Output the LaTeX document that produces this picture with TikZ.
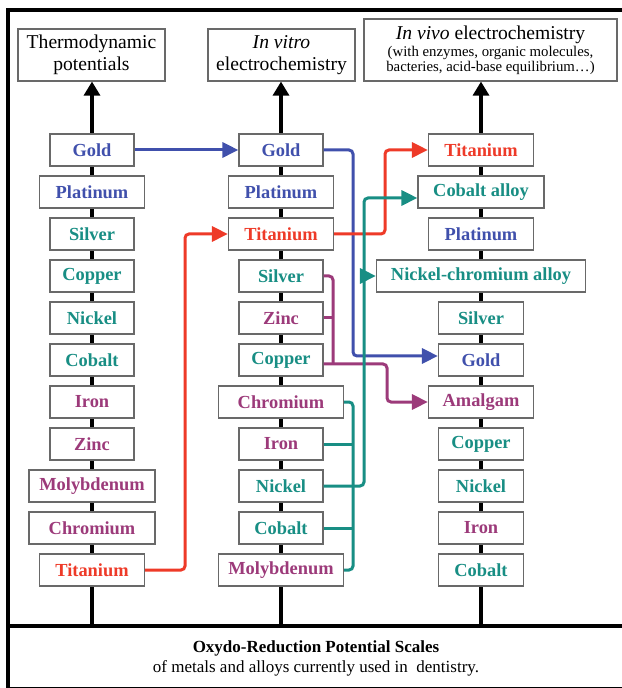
\documentclass[tikz,border=0pt]{standalone}
\usepackage{fontspec}
\setmainfont{Liberation Serif}
\usetikzlibrary{positioning}
\usetikzlibrary{arrows.meta}
\usetikzlibrary{calc}

\definecolor{mblue}{RGB}{64,80,172}
\definecolor{mteal}{RGB}{24,142,132}
\definecolor{mmag}{RGB}{156,58,122}
\definecolor{mred}{RGB}{238,58,40}
\definecolor{boxgray}{RGB}{105,105,105}

\tikzset{
	metal/.style={draw=boxgray, line width=0.6pt, fill=white, minimum height=16pt, inner sep=0pt, font=\fontsize{9.2}{11}\selectfont\bfseries},
	head/.style={draw=boxgray, line width=0.6pt, fill=white, align=center, inner sep=0pt, font=\fontsize{9.8}{11}\selectfont},
	scaleline/.style={line width=1.6pt, -{Triangle[length=7pt,width=8pt]}},
	link/.style={line width=1.5pt, rounded corners=2pt},
	linkto/.style={link, -{Triangle[length=8pt,width=7.5pt]}},
	frame/.style={line width=1.8pt}
}

\begin{document}
\begin{tikzpicture}[x=0.5pt,y=-0.5pt]

	\def\dy{42};
	\def\ytop{150};

	\useasboundingbox (0,0) rectangle (621,688);
	\draw[frame] (8,10) rectangle (640,689);
	\draw[frame] (8,626) -- (640,626);

	% headers
	\node[head, minimum width=73.5pt, minimum height=26pt] (h1) at (91.5,55) {Thermodynamic\\potentials};
	\node[head, minimum width=73.5pt, minimum height=26pt] (h2) at (281.5,55) {\textit{In vitro}\\electrochemistry};
	\node[head, minimum width=126.5pt, minimum height=31pt, font=\fontsize{7.4}{7.4}\selectfont] (h3) at (490.5,50)
		{{\fontsize{9.8}{11}\selectfont\textit{In vivo} electrochemistry}\\[1pt](with enzymes, organic molecules,\\bacteries, acid-base equilibrium…)};

	% scales
	\coordinate (b1) at (92,626);
	\coordinate (b2) at (281,626);
	\coordinate (b3) at (481,626);
	\draw[scaleline] (b1) -- (b1 |- h1.south);
	\draw[scaleline] (b2) -- (b2 |- h2.south);
	\draw[scaleline] (b3) -- (b3 |- h3.south);

	\foreach \i/\name/\txt/\col/\w in {0/au1/Gold/mblue/42, 1/pt1/Platinum/mblue/52.5, 2/ag1/Silver/mteal/42, 3/cu1/Copper/mteal/42, 4/ni1/Nickel/mteal/42, 5/co1/Cobalt/mteal/42, 6/fe1/Iron/mmag/42, 7/zn1/Zinc/mmag/42, 8/mo1/Molybdenum/mmag/63, 9/cr1/Chromium/mmag/63, 10/ti1/Titanium/mred/52.5} {
		\node[metal, text=\col, minimum width=\w pt] (\name) at (92,{\ytop+\i*\dy}) {\txt};
	}
	\foreach \i/\name/\txt/\col/\w in {0/au2/Gold/mblue/42, 1/pt2/Platinum/mblue/52.5, 2/ti2/Titanium/mred/52.5, 3/ag2/Silver/mteal/42, 4/zn2/Zinc/mmag/42, 5/cu2/Copper/mteal/42, 6/cr2/Chromium/mmag/62.5, 7/fe2/Iron/mmag/42, 8/ni2/Nickel/mteal/42, 9/co2/Cobalt/mteal/42, 10/mo2/Molybdenum/mmag/62.5} {
		\node[metal, text=\col, minimum width=\w pt] (\name) at (281,{\ytop+\i*\dy}) {\txt};
	}
	\foreach \i/\name/\txt/\col/\w in {0/ti3/Titanium/mred/52.5, 1/coal3/Cobalt alloy/mteal/63, 2/pt3/Platinum/mblue/52.5, 3/nicr3/Nickel-chromium alloy/mteal/104.5, 4/ag3/Silver/mteal/42.5, 5/au3/Gold/mblue/42.5, 6/amal3/Amalgam/mmag/52.5, 7/cu3/Copper/mteal/42.5, 8/ni3/Nickel/mteal/42.5, 9/fe3/Iron/mmag/42.5, 10/co3/Cobalt/mteal/42.5} {
		\node[metal, text=\col, minimum width=\w pt] (\name) at (481,{\ytop+\i*\dy}) {\txt};
	}

	% connections
	\coordinate (xti1) at (185,0);
	\coordinate (xmag) at (333,0);
	\coordinate (xbus) at (353,0);
	\coordinate (xni) at (364,0);
	\coordinate (xti2) at (385,0);
	\coordinate (xamal) at (387,0);
	\coordinate (auin) at ([yshift=2pt]au3.west);
	\coordinate (cuout) at ([yshift=-2pt]cu2.east);
	\coordinate (coin) at ([yshift=-3pt]coal3.west);

	\draw[linkto, mblue] (au1) -- (au2);
	\draw[linkto, mblue] (au2.east) -| (xbus |- auin) -- (auin);

	\draw[linkto, mred] (ti1.east) -| (xti1 |- ti2.west) -- (ti2.west);
	\draw[linkto, mred] (ti2.east) -| (xti2 |- ti3.west) -- (ti3.west);

	\draw[link, mmag] (ag2.east) -| (xmag |- cuout);
	\draw[link, mmag] (zn2.east) -- (xmag |- zn2.east);
	\draw[linkto, mmag] (cuout) -| (xamal |- amal3.west) -- (amal3.west);

	\draw[link, mteal] (cr2.east) -| (xbus |- mo2.east) -- (mo2.east);
	\draw[link, mteal] (fe2.east) -- (xbus |- fe2.east);
	\draw[link, mteal] (co2.east) -- (xbus |- co2.east);
	\draw[linkto, mteal] (ni2.east) -| (xni |- coin) -- (coin);
	\draw[linkto, mteal] (xni |- nicr3.west) -- (nicr3.west);

	% footer
	\node[font=\fontsize{8.5}{10}\selectfont, align=center] (foot) at (316,658)
		{\textbf{Oxydo-Reduction Potential Scales}\\of metals and alloys currently used in\ \ dentistry.};

\end{tikzpicture}
\end{document}
